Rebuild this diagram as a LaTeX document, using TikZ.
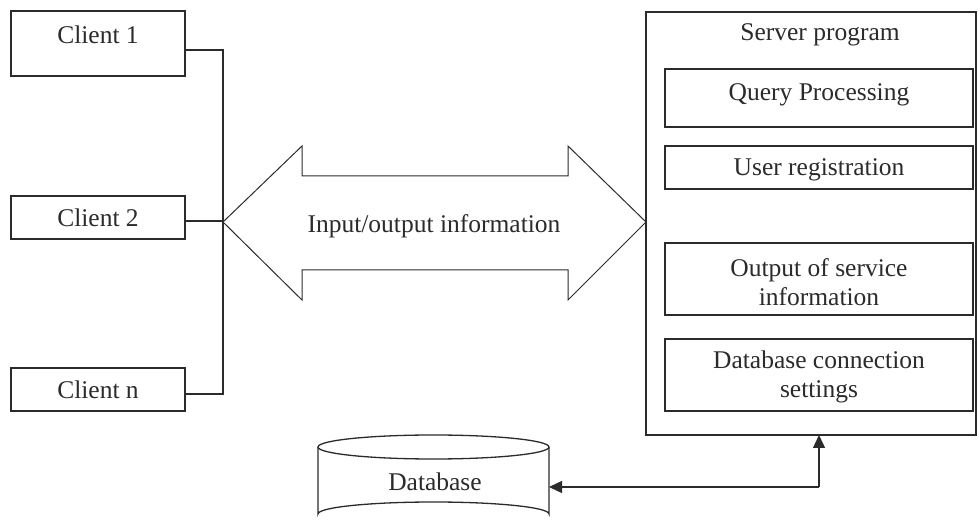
\documentclass[tikz,border=0pt]{standalone}
\usepackage{fontspec}
\setmainfont{Liberation Serif}
\usetikzlibrary{arrows.meta}
\definecolor{ink}{HTML}{2B2B2B}
\begin{document}
\begin{tikzpicture}[x=1pt,y=-1pt,
  every node/.style={font=\fontsize{25.5}{28.5}\selectfont, text=ink, inner sep=0pt},
  boxline/.style={draw=ink, line width=1.3pt},
  txt/.style={align=center},
  link/.style={draw=ink, line width=1.3pt},
  arr/.style={draw=ink, line width=1.3pt, -{Triangle[length=13pt,width=12pt]}}]
\useasboundingbox (0,0) rectangle (978,526);

% clients
\draw[boxline] (11,11) rectangle (185,76);
\node[txt] (c1) at (98,35) {Client 1};
\draw[boxline] (11,196) rectangle (185,239);
\node[txt] (c2) at (98,218) {Client 2};
\draw[boxline] (11,368) rectangle (185,411);
\node[txt] (cn) at (98,390) {Client n};
\coordinate (c1r) at (185,50);
\coordinate (c2r) at (185,221);
\coordinate (cnr) at (185,394);
\coordinate (bus) at (223,221);
\draw[link] (c1r) -- (223,50) -- (223,394) -- (cnr);
\draw[link] (c2r) -- (bus);

% double arrow
\draw[draw=ink, line width=1pt] (223,222) -- (302,146) -- (302,176) -- (568,176) -- (568,146)
  -- (646,222) -- (568,300) -- (568,270) -- (302,270) -- (302,300) -- cycle;
\node[txt] (io) at (434,226) {Input/output information};

% server
\draw[boxline] (646,12) rectangle (976,435);
\node[txt] (st) at (820,35) {Server program};
\draw[boxline] (665,69) rectangle (973,127);
\node[txt] (qp) at (819,95) {Query Processing};
\draw[boxline] (665,146) rectangle (973,189);
\node[txt] (ur) at (819,170) {User registration};
\draw[boxline] (665,243) rectangle (973,315);
\node[txt] (os) at (819,282) {Output of service\\information};
\draw[boxline] (665,339) rectangle (973,411);
\node[txt] (dc) at (819,377) {Database connection\\settings};

% database cylinder
\draw[boxline] (318,447) -- (318,514) arc[start angle=180,end angle=360,x radius=115.5,y radius=12] -- (549,447);
\draw[boxline] (433.5,447) ellipse[x radius=115.5,y radius=12];
\node[txt] (db) at (435,482) {Database};

\coordinate (dbr) at (549,487);
\coordinate (srvb) at (819,435);
\draw[arr] (819,487) -- (dbr);
\draw[arr] (819,487) -- (srvb);
\end{tikzpicture}
\end{document}
